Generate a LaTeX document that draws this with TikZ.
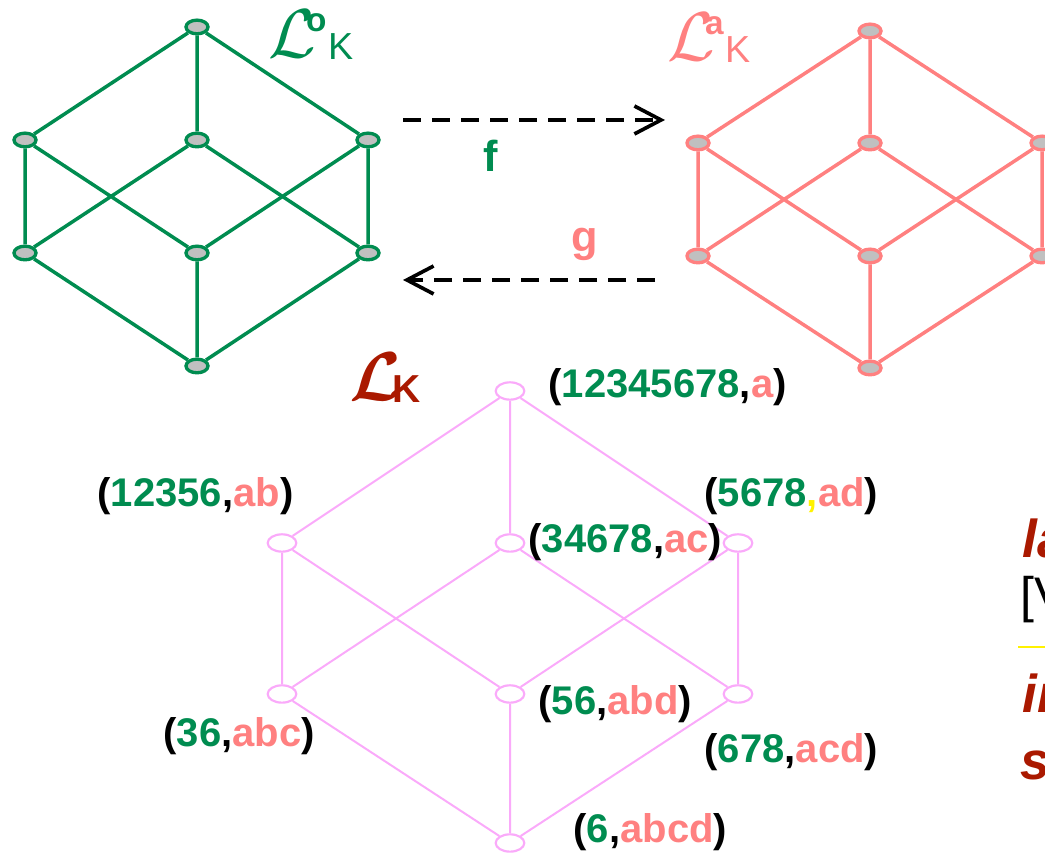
\documentclass[tikz,border=0pt]{standalone}
\usepackage{fontspec}
\setmainfont{Liberation Sans}
\usetikzlibrary{arrows.meta,shapes.geometric}

\definecolor{ogreen}{RGB}{0,140,80}
\definecolor{asalmon}{RGB}{255,128,128}
\definecolor{lviolet}{RGB}{250,170,250}
\definecolor{kred}{RGB}{170,25,0}
\definecolor{nodegray}{RGB}{192,192,192}

% (extent,intent) pair, comma colour optional
\newcommand{\ext}[3][black]{(\textcolor{ogreen}{#2}\textcolor{#1}{,}\textcolor{asalmon}{#3})}
% script L with a letter up and a K down
\newcommand{\latname}[1]{{\fontsize{20}{20}\selectfont$\mathcal{L}$}%
  \hspace{-3.1pt}\raisebox{7.8pt}{\fontsize{10}{10}\selectfont\bfseries #1}%
  \hspace{0.5pt}\raisebox{-0.6pt}{\fontsize{11.3}{11.3}\selectfont K}}

\tikzset{
  onode/.style={ellipse,draw=ogreen,fill=nodegray,line width=1pt,
    minimum width=6.6pt,minimum height=4.1pt,inner sep=0pt},
  anode/.style={onode,draw=asalmon},
  knode/.style={ellipse,draw=lviolet,fill=white,line width=0.65pt,
    minimum width=8.6pt,minimum height=5.2pt,inner sep=0pt},
  oline/.style={draw=ogreen,line width=1.05pt},
  aline/.style={draw=asalmon,line width=1.05pt},
  kline/.style={draw=lviolet,line width=0.6pt},
  maparrow/.style={dash pattern=on 5.4pt off 3.3pt,line width=1.1pt,
    -{Straight Barb[length=8pt,width=8.4pt,line width=1.1pt]}},
  lbl/.style={inner sep=0pt,anchor=base west,
    font=\fontsize{12}{14}\selectfont\bfseries},
  cut/.style={inner sep=0pt,anchor=base west,text=kred,
    font=\fontsize{16}{18}\selectfont\bfseries\itshape}
}

\begin{document}
\begin{tikzpicture}[x=30pt,y=30pt]
\clip (0,0) rectangle (10.45,8.54);

% lattice of extents
\node[onode] (o1) at (1.97,8.27) {};
\node[onode] (o2) at (0.25,7.14) {};
\node[onode] (o3) at (1.97,7.14) {};
\node[onode] (o4) at (3.68,7.14) {};
\node[onode] (o5) at (0.25,6.01) {};
\node[onode] (o6) at (1.97,6.01) {};
\node[onode] (o7) at (3.68,6.01) {};
\node[onode] (o8) at (1.97,4.88) {};

\draw[oline] (o1)--(o2) (o1)--(o3) (o1)--(o4) ;
\draw[oline] (o2)--(o5) (o2)--(o6) (o3)--(o5) (o3)--(o7) ;
\draw[oline] (o4)--(o6) (o4)--(o7) ;
\draw[oline] (o5)--(o8) (o6)--(o8) (o7)--(o8) ;

\node[inner sep=0pt,anchor=base west,text=ogreen] (oname) at (2.68,7.96) {\latname{o}};

% lattice of intents
\node[anode] (a1) at (8.70,8.23) {};
\node[anode] (a2) at (6.98,7.11) {};
\node[anode] (a3) at (8.70,7.11) {};
\node[anode] (a4) at (10.42,7.11) {};
\node[anode] (a5) at (6.98,5.98) {};
\node[anode] (a6) at (8.70,5.98) {};
\node[anode] (a7) at (10.42,5.98) {};
\node[anode] (a8) at (8.70,4.86) {};

\draw[aline] (a1)--(a2) (a1)--(a3) (a1)--(a4) ;
\draw[aline] (a2)--(a5) (a2)--(a6) (a3)--(a5) (a3)--(a7) ;
\draw[aline] (a4)--(a6) (a4)--(a7) ;
\draw[aline] (a5)--(a8) (a6)--(a8) (a7)--(a8) ;

\node[inner sep=0pt,anchor=base west,text=asalmon] (aname) at (6.67,7.93) {\latname{a}};

% the two maps
\coordinate (f-from) at (4.03,7.34) ;
\coordinate (f-to) at (6.65,7.34) ;
\coordinate (g-from) at (6.55,5.74) ;
\coordinate (g-to) at (4.03,5.74) ;
\draw[maparrow] (f-from)--(f-to) ;
\draw[maparrow] (g-from)--(g-to) ;
\node[inner sep=0pt,anchor=base,text=ogreen,font=\fontsize{13}{15}\selectfont\bfseries] (f) at (4.91,6.82) {f};
\node[inner sep=0pt,anchor=base,text=asalmon,font=\fontsize{13}{15}\selectfont\bfseries] (g) at (5.85,6.02) {g};

% concept lattice
\node[knode] (k1) at (5.10,4.63) {};
\node[knode] (k2) at (2.82,3.11) {};
\node[knode] (k3) at (5.10,3.11) {};
\node[knode] (k4) at (7.38,3.11) {};
\node[knode] (k5) at (2.82,1.60) {};
\node[knode] (k6) at (5.10,1.60) {};
\node[knode] (k7) at (7.38,1.60) {};
\node[knode] (k8) at (5.10,0.11) {};

\draw[kline] (k1)--(k2) (k1)--(k3) (k1)--(k4) ;
\draw[kline] (k2)--(k5) (k2)--(k6) (k3)--(k5) (k3)--(k7) ;
\draw[kline] (k4)--(k6) (k4)--(k7) ;
\draw[kline] (k5)--(k8) (k6)--(k8) (k7)--(k8) ;

\node[inner sep=0pt,anchor=base west,text=kred] (kname) at (3.49,4.53)
  {{\boldmath\fontsize{20}{20}\selectfont$\mathcal{L}$}\hspace{-3.4pt}%
   \raisebox{-0.6pt}{\fontsize{11.7}{11.7}\selectfont\bfseries K}};

\node[lbl] (l1) at (5.48,4.56) {\ext{12345678}{a}};
\node[lbl] (l2) at (0.97,3.47) {\ext{12356}{ab}};
\node[lbl] (l3) at (5.28,3.01) {\ext{34678}{ac}};
\node[lbl] (l4) at (7.04,3.47) {\ext[yellow]{5678}{ad}};
\node[lbl] (l5) at (1.63,1.07) {\ext{36}{abc}};
\node[lbl] (l6) at (5.38,1.39) {\ext{56}{abd}};
\node[lbl] (l7) at (7.04,0.91) {\ext{678}{acd}};
\node[lbl] (l8) at (5.73,0.11) {\ext{6}{abcd}};

% text running off the right edge
\node[cut] (t1) at (10.22,2.96) {la};
\node[inner sep=0pt,anchor=base west,font=\fontsize{15}{17}\selectfont] (t2) at (10.20,2.41) {[V};
\coordinate (bar-end) at (10.60,2.07) ;
\draw[yellow,line width=0.6pt] (10.18,2.07) -- (bar-end) ;
\node[cut] (t3) at (10.22,1.41) {in};
\node[cut] (t4) at (10.20,0.74) {s};
\end{tikzpicture}
\end{document}
